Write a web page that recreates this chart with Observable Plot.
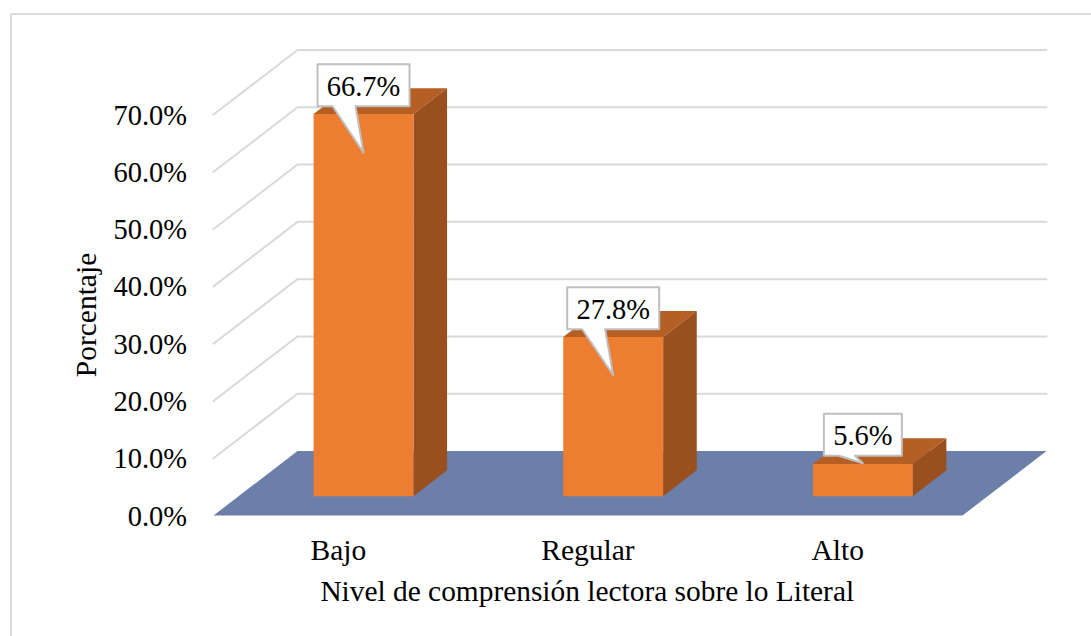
<!DOCTYPE html>
<html>
<head>
<meta charset="utf-8">
<script src="https://cdn.jsdelivr.net/npm/d3@7"></script>
<script src="https://cdn.jsdelivr.net/npm/@observablehq/plot@0.6"></script>
<style>
  html, body { margin: 0; padding: 0; background: #fff; }
  #wrap { position: relative; width: 1091px; height: 636px; overflow: hidden; }
  #frame { position: absolute; left: 10px; top: 13px; width: 1100px; height: 700px; border: 2px solid #dcdcdc; box-sizing: border-box; }
  #chart { position: absolute; left: 0; top: 0; }
  svg { display: block; }
</style>
</head>
<body>
<div id="wrap"><div id="frame"></div><div id="chart"></div></div>
<script>
const categories = ["Bajo", "Regular", "Alto"];
const percentages = [66.7, 27.8, 5.6];
const labels = ["66.7%", "27.8%", "5.6%"];
const calloutTips = [59.95, 21.1, 5.75];
const calloutLifts = [46.5, 46, 7.5];
const yTicks = [0, 10, 20, 30, 40, 50, 60, 70];
const xTitle = "Nivel de comprensión lectora sobre lo Literal";
const yTitle = "Porcentaje";

const FONT = "'Liberation Serif', 'Times New Roman', serif";
const xRange = [213, 962], yRange = [515, 114];
const xPerPx = 3 / (xRange[1] - xRange[0]);
const vPerPx = 70 / (yRange[0] - yRange[1]);

// oblique projection: depth d (0 front, 1 back) shifts right and up
const depthX = 84 * xPerPx, depthY = 64.5 * vPerPx;
const P = (c, v, d, id) => ({x: c + d * depthX, y: v + d * depthY, id});

const barW = 0.4, d0 = 0.3, d1 = 0.7;
const faces = (fn) => percentages.flatMap((v, i) => {
  const a = i + 0.5 - barW / 2, b = i + 0.5 + barW / 2;
  return fn(a, b, v, i);
});
const frontFace = faces((a, b, v, i) => [P(a, 0, d0, i), P(b, 0, d0, i), P(b, v, d0, i), P(a, v, d0, i)]);
const topFace = faces((a, b, v, i) => [P(a, v, d0, i), P(b, v, d0, i), P(b, v, d1, i), P(a, v, d1, i)]);
const sideFace = faces((a, b, v, i) => [P(b, 0, d0, i), P(b, 0, d1, i), P(b, v, d1, i), P(b, v, d0, i)]);
const floorFace = [P(0, 0, 0, "f"), P(3, 0, 0, "f"), P(3, 0, 1, "f"), P(0, 0, 1, "f")];
const gridLines = yTicks.slice(1).flatMap((v) => [P(0, v, 0, v), P(0, v, 1, v), P(3, v, 1, v)]);

// callouts hang off a tip on the front face of each bar
const boxH = 42;
const callouts = percentages.flatMap((v, i) => {
  const tx = i + 0.5 + d0 * depthX, ty = calloutTips[i] + d0 * depthY;
  const hw = 7 * labels[i].length + 11, lift = calloutLifts[i];
  const px = (dx, dy) => ({x: tx + dx * xPerPx, y: ty + dy * vPerPx, id: i});
  return [
    px(-hw, lift), px(-hw, lift + boxH), px(hw, lift + boxH), px(hw, lift),
    px(-8, lift), px(0, 0), px(-hw + 15, lift), px(-hw, lift)
  ];
});
const calloutText = percentages.map((v, i) => ({
  x: i + 0.5 + d0 * depthX,
  y: calloutTips[i] + d0 * depthY + (calloutLifts[i] + boxH / 2) * vPerPx,
  text: labels[i]
}));

const poly = (data, fill) => Plot.line(data, {x: "x", y: "y", z: "id", fill, stroke: "none", curve: "linear-closed"});

const chart = Plot.plot({
  width: 1091,
  height: 636,
  marginLeft: 213,
  marginRight: 44,
  marginTop: 40,
  marginBottom: 121,
  style: {background: "transparent", fontFamily: FONT, color: "#000", overflow: "visible"},
  x: {domain: [0, 3], range: xRange},
  y: {domain: [0, 70], range: yRange},
  marks: [
    Plot.line(gridLines, {x: "x", y: "y", z: "id", stroke: "#d9d9d9", strokeWidth: 2}),
    poly(floorFace, "#6c7fa8"),
    Plot.axisY({
      ticks: yTicks, tickSize: 0, tickPadding: 26.5, fontSize: 28.5, dy: 1,
      tickFormat: (d) => d.toFixed(1) + "%", label: null
    }),
    Plot.axisX({
      ticks: categories.map((_, i) => i + 0.5), tickSize: 0, tickPadding: 24, fontSize: 29.5,
      tickFormat: (d) => categories[Math.floor(d)], label: null
    }),
    Plot.text([yTitle], {x: -0.508, y: 35, text: (d) => d, rotate: -90, fontSize: 29.5, fill: "#000"}),
    Plot.text([xTitle], {x: 1.497, y: -13.3, text: (d) => d, fontSize: 29.4, fill: "#000"}),
    poly(topFace, "#b55f25"),
    poly(sideFace, "#9a4f1e"),
    poly(frontFace, "#ed7d31"),
    Plot.line(callouts, {x: "x", y: "y", z: "id", fill: "#fff", stroke: "#bfbfbf", strokeWidth: 2}),
    Plot.text(calloutText, {x: "x", y: "y", text: "text", fontSize: 28.5, dy: 1.5, fill: "#000"})
  ]
});
document.getElementById("chart").appendChild(chart);
</script>
</body>
</html>
